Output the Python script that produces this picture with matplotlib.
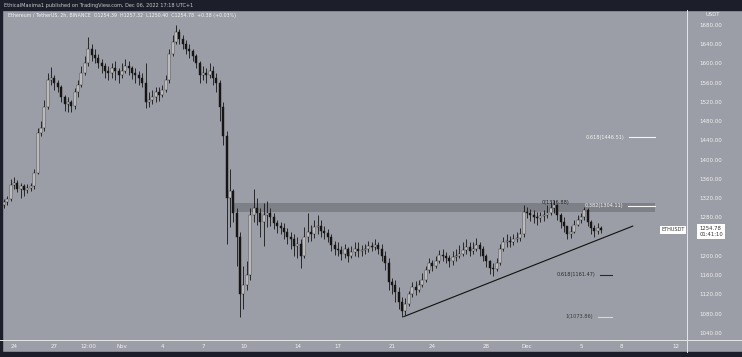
import matplotlib
matplotlib.use('Agg')
import matplotlib.pyplot as plt
import matplotlib.dates as mdates
from matplotlib.patches import Rectangle
from matplotlib.lines import Line2D
import numpy as np
import pandas as pd

# 6h candles, ETH/USDT, Oct 23 06:00 -> Dec 6 12:00
START = '2022-10-23 06:00'
FIRST_OPEN = 1305.0

closes = [
    1312, 1318, 1348,
    1352, 1340, 1345, 1338,  1342, 1345, 1372, 1455,  1465, 1510, 1565, 1570,
    1560, 1550, 1530, 1515,  1520, 1512, 1540, 1555,  1580, 1600, 1630, 1618,
    1612, 1600, 1595, 1585,  1580, 1590, 1585, 1575,  1585, 1595, 1590, 1580,
    1575, 1570, 1560, 1520,  1525, 1530, 1540, 1535,  1545, 1565, 1620, 1645,
    1665, 1650, 1640, 1630,  1625, 1615, 1600, 1575,  1580, 1575, 1585, 1570,
    1560, 1510, 1450, 1320,  1335, 1290, 1240, 1120,  1140, 1160, 1285, 1300,
    1290, 1270, 1285, 1290,  1280, 1268, 1262, 1258,  1250, 1240, 1235, 1220,
    1225, 1200, 1240, 1250,  1245, 1260, 1262, 1252,  1248, 1240, 1222, 1215,
    1212, 1205, 1215, 1200,  1208, 1215, 1210, 1212,  1215, 1220, 1218, 1222,
    1215, 1200, 1185, 1145,  1140, 1125, 1105, 1085,  1100, 1120, 1135, 1130,
    1140, 1150, 1170, 1185,  1180, 1190, 1202, 1200,  1195, 1190, 1198, 1200,
    1205, 1212, 1218, 1210,  1215, 1222, 1215, 1200,  1190, 1175, 1172, 1185,
    1215, 1228, 1232, 1230,  1235, 1238, 1245, 1292,  1290, 1285, 1280, 1278,
    1282, 1285, 1290, 1300,  1305, 1285, 1270, 1262,  1245, 1250, 1265, 1275,
    1280, 1295, 1270, 1258,  1252, 1258, 1254.78,
]
highs = [
    1318, 1325, 1360,
    1365, 1358, 1352, 1350,  1350, 1352, 1380, 1465,  1480, 1525, 1580, 1592,
    1575, 1565, 1555, 1535,  1530, 1525, 1548, 1565,  1595, 1615, 1655, 1640,
    1630, 1620, 1610, 1600,  1595, 1600, 1605, 1590,  1600, 1610, 1605, 1595,
    1590, 1585, 1580, 1600,  1540, 1545, 1550, 1552,  1555, 1575, 1630, 1660,
    1680, 1672, 1660, 1648,  1640, 1630, 1620, 1605,  1595, 1590, 1600, 1595,
    1580, 1565, 1520, 1460,  1380, 1340, 1300, 1250,  1180, 1190, 1300, 1340,
    1320, 1300, 1310, 1315,  1300, 1290, 1275, 1270,  1268, 1258, 1250, 1245,
    1240, 1235, 1260, 1290,  1265, 1275, 1285, 1275,  1262, 1255, 1245, 1232,
    1228, 1220, 1225, 1218,  1220, 1228, 1230, 1222,  1225, 1232, 1228, 1235,
    1228, 1225, 1210, 1195,  1155, 1150, 1135, 1115,  1112, 1128, 1145, 1148,
    1150, 1165, 1180, 1195,  1192, 1200, 1212, 1215,  1208, 1202, 1210, 1215,
    1222, 1230, 1235, 1228,  1230, 1238, 1230, 1220,  1205, 1192, 1185, 1195,
    1225, 1240, 1245, 1242,  1245, 1250, 1258, 1305,  1302, 1298, 1295, 1292,
    1292, 1296, 1305, 1312,  1316.88, 1308, 1290, 1280,  1262, 1262, 1275, 1285,
    1290, 1302, 1300, 1275,  1265, 1268, 1262,
]
lows = [
    1300, 1305, 1315,
    1340, 1332, 1320, 1325,  1330, 1335, 1340, 1370,  1450, 1460, 1505, 1555,
    1545, 1540, 1520, 1502,  1500, 1500, 1505, 1530,  1550, 1575, 1595, 1605,
    1600, 1590, 1580, 1570,  1565, 1570, 1565, 1560,  1570, 1580, 1575, 1568,
    1560, 1555, 1550, 1508,  1510, 1515, 1520, 1522,  1530, 1540, 1560, 1615,
    1640, 1640, 1630, 1620,  1612, 1605, 1590, 1560,  1565, 1560, 1570, 1555,
    1540, 1480, 1430, 1225,  1260, 1270, 1180, 1073.86,  1090, 1130, 1150, 1270,
    1265, 1240, 1220, 1260,  1262, 1255, 1248, 1245,  1235, 1225, 1215, 1200,
    1195, 1175, 1195, 1230,  1232, 1238, 1245, 1240,  1235, 1228, 1210, 1202,
    1200, 1192, 1195, 1188,  1195, 1200, 1198, 1200,  1205, 1208, 1210, 1212,
    1205, 1190, 1170, 1130,  1120, 1105, 1090, 1074,  1078, 1095, 1115, 1118,
    1125, 1135, 1145, 1165,  1168, 1175, 1185, 1190,  1185, 1178, 1182, 1190,
    1195, 1200, 1205, 1200,  1205, 1210, 1200, 1190,  1178, 1162, 1158, 1168,
    1182, 1210, 1218, 1218,  1222, 1228, 1232, 1240,  1278, 1272, 1268, 1265,
    1270, 1272, 1278, 1285,  1290, 1275, 1258, 1250,  1235, 1238, 1248, 1262,
    1268, 1275, 1262, 1245,  1240, 1245, 1248,
]

tick_dates = ['2022-10-24', '2022-10-27', '2022-10-29 12:00', '2022-11-01', '2022-11-04',
              '2022-11-07', '2022-11-10', '2022-11-14', '2022-11-17', '2022-11-21',
              '2022-11-24', '2022-11-28', '2022-12-01', '2022-12-05', '2022-12-08', '2022-12-12']
tick_labels = ['24', '27', '12:00', 'Nov', '4', '7', '10', '14', '17', '21',
               '24', '28', 'Dec', '5', '8', '12']
price_ticks = list(range(1040, 1681, 40))

# fib levels drawn on the right
fib_labels = ['0.618(1446.51)', '0.382(1304.11)', '0.618(1161.47)', '1(1073.86)']
fib_values = [1446.51, 1304.11, 1161.47, 1073.86]
fib_starts = ['2022-12-08 14:00', '2022-12-08 12:00', '2022-12-06 10:00', '2022-12-06 06:00']
fib_ends = ['2022-12-10 11:00', '2022-12-10 11:00', '2022-12-07 07:00', '2022-12-07 07:00']
fib_colors = ['#f4f4f4', '#f4f4f4', '#2a2a2a', '#d8d8d8']
fib_text_colors = ['#f4f4f4', '#f4f4f4', '#2a2a2a', '#3a3a3a']
top_label = '0(1316.88)'
top_value = 1316.88

zone_low, zone_high = 1292, 1310
trend_dates = ['2022-11-21 21:00', '2022-12-08 20:00']
trend_prices = [1074, 1262]

BG = '#9b9ea6'
DARK = '#1c1f29'
W, H = 742, 357

times = pd.date_range(START, periods=len(closes), freq='6h')
x = mdates.date2num(times)
c = np.array(closes, dtype=float)
o = np.r_[FIRST_OPEN, c[:-1]]
h = np.maximum(np.array(highs, dtype=float), np.maximum(o, c))
l = np.minimum(np.array(lows, dtype=float), np.minimum(o, c))

fig = plt.figure(figsize=(W / 100, H / 100), dpi=100, facecolor=BG)
ax = fig.add_axes([3 / W, 17 / H, 684 / W, 330 / H])
ax.set_facecolor(BG)

# resistance zone
z0 = mdates.date2num(pd.Timestamp('2022-11-09 03:00'))
z1 = mdates.date2num(pd.Timestamp('2022-12-10 11:00'))
ax.add_patch(Rectangle((z0, zone_low), z1 - z0, zone_high - zone_low,
                       color='#7e8087', lw=0, zorder=1))

# candles
bw = 0.15
ax.vlines(x, l, h, color='#151515', lw=0.6, zorder=3)
up = c >= o
ax.bar(x[up], (c - o)[up], bottom=o[up], width=bw, color='#e6e6e6',
       edgecolor='#151515', lw=0.3, zorder=4)
ax.bar(x[~up], (o - c)[~up], bottom=c[~up], width=bw, color='#151515',
       edgecolor='#151515', lw=0.3, zorder=4)

# trend line
ax.plot(mdates.date2num(pd.to_datetime(trend_dates)), trend_prices, color='#111111', lw=0.8, zorder=5)

# fib levels
for lab, val, s, e, col, tcol in zip(fib_labels, fib_values, fib_starts, fib_ends,
                                     fib_colors, fib_text_colors):
    xs = mdates.date2num(pd.Timestamp(s))
    xe = mdates.date2num(pd.Timestamp(e))
    ax.plot([xs, xe], [val, val], color=col, lw=0.8, zorder=5)
    ax.text(xs - 0.35, val, lab, fontsize=3.6, color=tcol, ha='right', va='center', zorder=6)
ax.text(mdates.date2num(pd.Timestamp('2022-12-03 02:00')), top_value - 6, top_label, fontsize=3.6,
        color='#222222', ha='center', va='center', zorder=6)

ax.set_xlim(mdates.date2num(pd.Timestamp('2022-10-23 04:30')),
            mdates.date2num(pd.Timestamp('2022-12-12 20:30')))
ax.set_ylim(1025.4, 1711)

ax.yaxis.tick_right()
ax.set_yticks(price_ticks)
# 1240 sits under the last-price tag
ax.set_yticklabels(['' if v == 1240 else f'{v:.2f}' for v in price_ticks])
ax.tick_params(axis='y', length=0, labelsize=4, colors='#f2f2f2', pad=9)
ax.set_xticks(mdates.date2num(pd.to_datetime(tick_dates, format='mixed')))
ax.set_xticklabels(tick_labels)
ax.tick_params(axis='x', length=0, labelsize=4, colors='#f2f2f2', pad=3)
for sp in ax.spines.values():
    sp.set_visible(False)

# frame / header
fig.patches.append(Rectangle((0, 1 - 10 / H), 1, 10 / H, transform=fig.transFigure,
                             color=DARK, zorder=0))
fig.patches.append(Rectangle((0, 0), 1, 5 / H, transform=fig.transFigure, color=DARK, zorder=0))
fig.patches.append(Rectangle((0, 0), 2 / W, 1, transform=fig.transFigure, color=DARK, zorder=0))
fig.lines.append(Line2D([0, 1], [17 / H, 17 / H], transform=fig.transFigure, color='#e6e6e6', lw=0.7))
fig.lines.append(Line2D([687 / W, 687 / W], [5 / H, 1 - 10 / H], transform=fig.transFigure,
                        color='#e6e6e6', lw=0.7))

fig.text(4 / W, 1 - 5 / H, 'EthicalMaxima1 published on TradingView.com, Dec 06, 2022 17:18 UTC+1',
         fontsize=3.6, color='#c8cad0', va='center')
fig.text(8 / W, 1 - 16 / H,
         'Ethereum / TetherUS, 2h, BINANCE  O1254.39  H1257.32  L1250.40  C1254.78  +0.38 (+0.03%)',
         fontsize=3.4, color='#f2f2f2', va='center')
fig.text(706 / W, 1 - 15 / H, 'USDT', fontsize=3.8, color='#f2f2f2', va='center')

# last price tag
last = c[-1]
ax.annotate(f'{last:.2f}\n01:41:10', xy=(1.003, last), xycoords=('axes fraction', 'data'),
            fontsize=3.8, color='#333333', ha='left', va='top', linespacing=1.3,
            bbox=dict(boxstyle='square,pad=0.35', fc='white', ec='none'),
            xytext=(1.018, last + 7), textcoords=('axes fraction', 'data'), zorder=10,
            annotation_clip=False)
ax.text(0.997, last, 'ETHUSDT', transform=ax.get_yaxis_transform(), fontsize=3.6,
        color='#333333', ha='right', va='center', zorder=10,
        bbox=dict(boxstyle='square,pad=0.3', fc='white', ec='none'))

fig.savefig('out.png', dpi=100, facecolor=BG)
